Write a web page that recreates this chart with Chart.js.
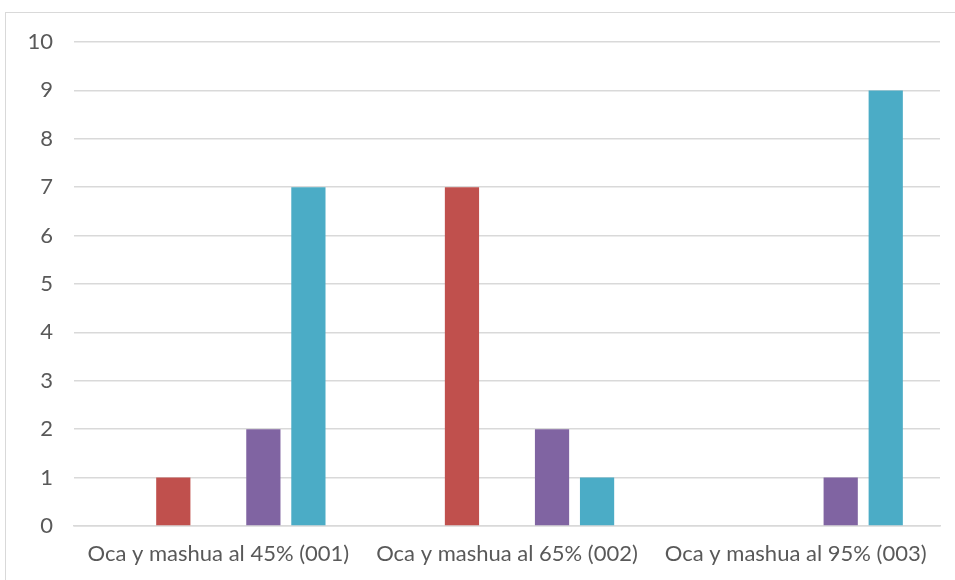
<!DOCTYPE html>
<html>
<head>
<meta charset="utf-8">
<script src="https://cdn.jsdelivr.net/npm/chart.js@4"></script>
<style>
  html, body { margin: 0; padding: 0; background: #fff; }
  #wrap { position: relative; width: 955px; height: 580px; overflow: hidden; }
  #frame { position: absolute; left: 5px; top: 12px; width: 980px; height: 600px; border: 1px solid #d9d9d9; box-sizing: border-box; }
  #c { position: absolute; left: 0; top: 0; }
</style>
</head>
<body>
<div id="wrap">
  <div id="frame"></div>
  <canvas id="c" width="955" height="580"></canvas>
</div>
<script>
// Datos
const categorias = ['Oca y mashua al 45% (001)', 'Oca y mashua al 65% (002)', 'Oca y mashua al 95% (003)'];
const serie1 = [0, 0, 0];
const serie2 = [1, 7, 0];
const serie3 = [0, 0, 0];
const serie4 = [2, 2, 1];
const serie5 = [7, 1, 9];
const colores = ['#4F81BD', '#C0504D', '#9BBB59', '#8064A2', '#4BACC6'];
const yTicks = [0, 1, 2, 3, 4, 5, 6, 7, 8, 9, 10];

const series = [serie1, serie2, serie3, serie4, serie5];
const fuente = "Lato, 'Open Sans', sans-serif";

new Chart(document.getElementById('c').getContext('2d'), {
    type: 'bar',
    data: {
        labels: categorias,
        datasets: series.map((s, i) => ({
            label: 'Serie ' + (i + 1),
            data: s,
            backgroundColor: colores[i],
            borderWidth: 0,
            barPercentage: 0.76,
            categoryPercentage: 0.78
        }))
    },
    options: {
        responsive: false,
        animation: false,
        layout: { padding: { top: 42, right: 15, bottom: 0, left: 0 } },
        plugins: {
            legend: { display: false },
            tooltip: { enabled: false }
        },
        scales: {
            x: {
                grid: { display: false, drawTicks: false },
                border: { display: true, color: '#d9d9d9', width: 1.5 },
                ticks: { color: '#595959', font: { family: fuente, size: 22 }, padding: 15, maxRotation: 0, autoSkip: false },
                afterFit: function(scale) { scale.height = 54; }
            },
            y: {
                min: 0,
                max: 10,
                afterBuildTicks: function(scale) { scale.ticks = yTicks.map(v => ({ value: v })); },
                grid: { color: '#d9d9d9', lineWidth: 1.5, drawTicks: false },
                border: { display: false },
                ticks: { color: '#595959', font: { family: fuente, size: 22 }, padding: 21 },
                afterFit: function(scale) { scale.width = 74; }
            }
        }
    }
});
</script>
</body>
</html>
